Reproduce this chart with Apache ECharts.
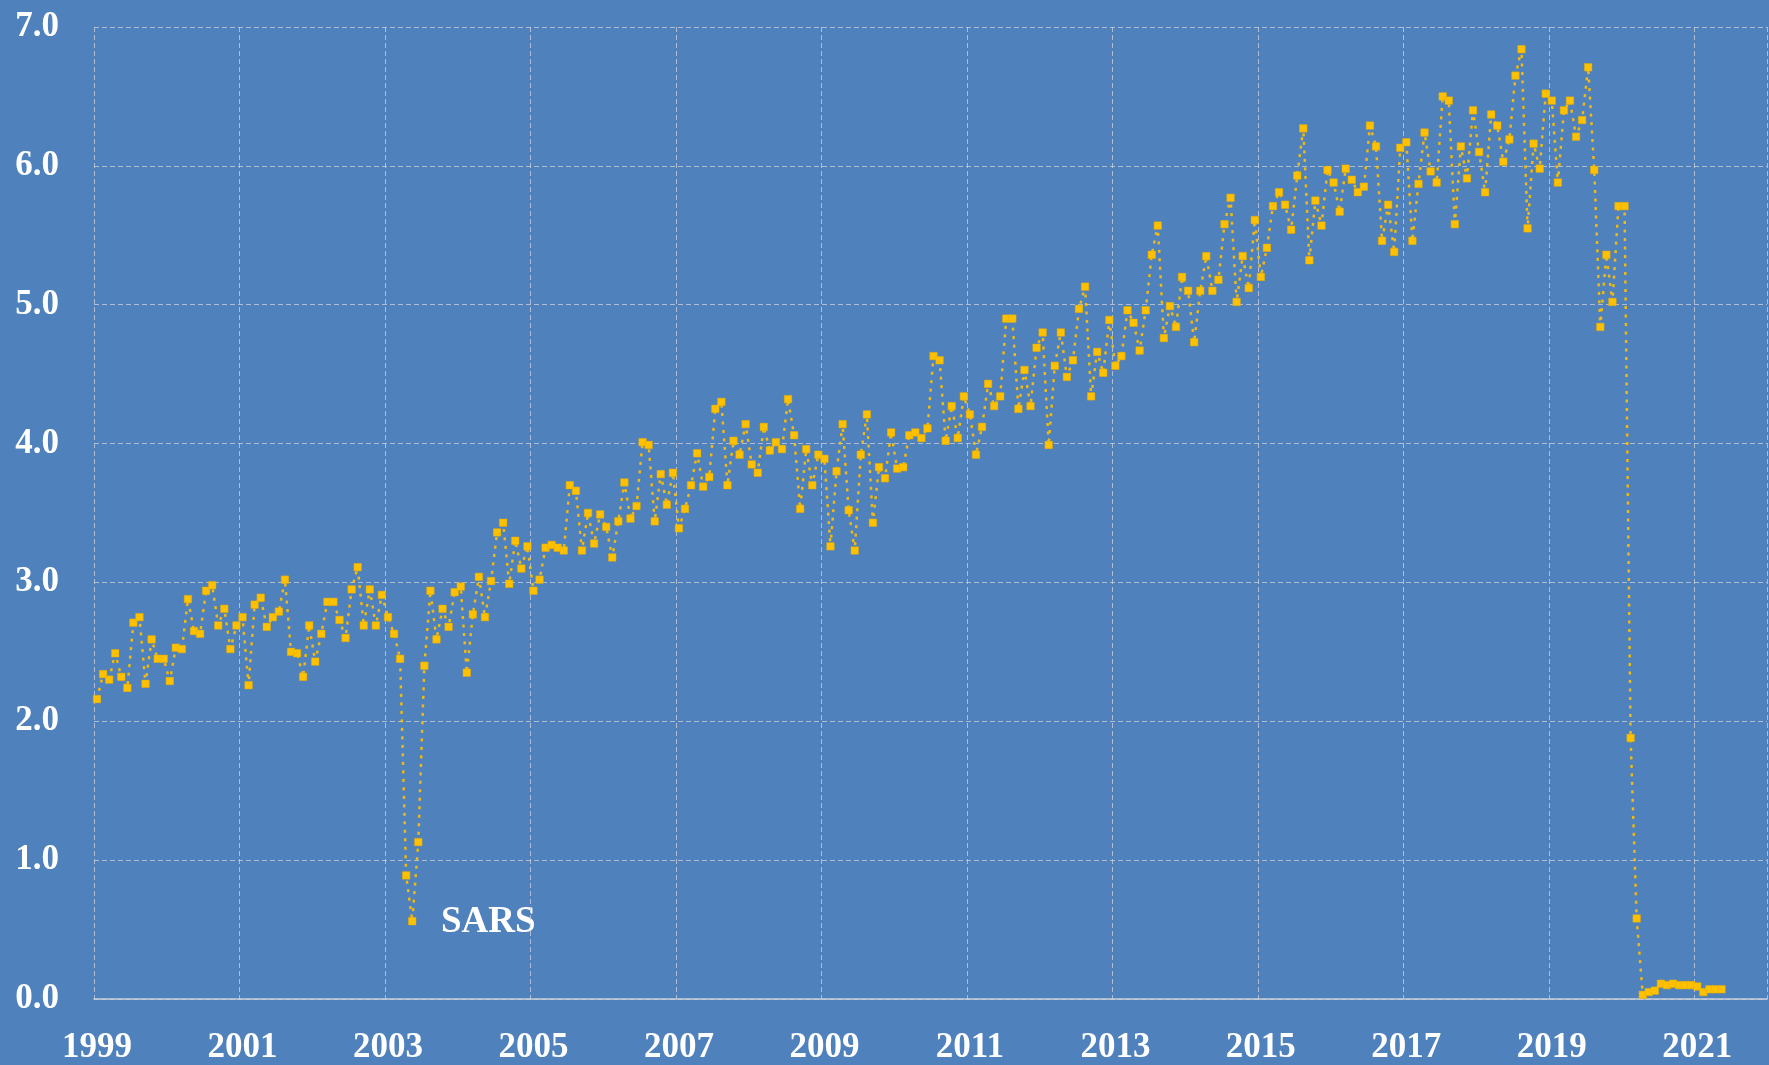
<!DOCTYPE html>
<html>
<head>
<meta charset="utf-8">
<script src="https://cdn.jsdelivr.net/npm/echarts@6/dist/echarts.min.js"></script>
<style>
html,body{margin:0;padding:0;background:#4F81BD;}
#chart{width:1769px;height:1065px;}
</style>
</head>
<body>
<div id="chart"></div>
<script>
// Axis range: monthly categories Jan 1999 .. Dec 2021
var firstYear = 1999;
var lastYear = 2021;
var yTickLabels = ['0.0','1.0','2.0','3.0','4.0','5.0','6.0','7.0'];
var annotation = 'SARS';

// Monthly values, one array per year
var v1999 = [2.16, 2.34, 2.30, 2.49, 2.32, 2.24, 2.71, 2.75, 2.27, 2.59, 2.45, 2.45];
var v2000 = [2.29, 2.53, 2.52, 2.88, 2.65, 2.63, 2.94, 2.98, 2.69, 2.81, 2.52, 2.69];
var v2001 = [2.75, 2.26, 2.84, 2.89, 2.68, 2.75, 2.79, 3.02, 2.50, 2.49, 2.32, 2.69];
var v2002 = [2.43, 2.63, 2.86, 2.86, 2.73, 2.60, 2.95, 3.11, 2.69, 2.95, 2.69, 2.91];
var v2003 = [2.75, 2.63, 2.45, 0.89, 0.56, 1.13, 2.40, 2.94, 2.59, 2.81, 2.68, 2.93];
var v2004 = [2.97, 2.35, 2.77, 3.04, 2.75, 3.01, 3.36, 3.43, 2.99, 3.30, 3.10, 3.26];
var v2005 = [2.94, 3.02, 3.25, 3.27, 3.25, 3.23, 3.70, 3.66, 3.23, 3.50, 3.28, 3.49];
var v2006 = [3.40, 3.18, 3.44, 3.72, 3.46, 3.55, 4.01, 3.99, 3.44, 3.78, 3.56, 3.79];
var v2007 = [3.39, 3.53, 3.70, 3.93, 3.69, 3.76, 4.25, 4.30, 3.70, 4.02, 3.92, 4.14];
var v2008 = [3.85, 3.79, 4.12, 3.95, 4.01, 3.96, 4.32, 4.06, 3.53, 3.96, 3.70, 3.92];
var v2009 = [3.89, 3.26, 3.80, 4.14, 3.52, 3.23, 3.92, 4.21, 3.43, 3.83, 3.75, 4.08];
var v2010 = [3.82, 3.83, 4.06, 4.08, 4.04, 4.11, 4.63, 4.60, 4.02, 4.27, 4.04, 4.34];
var v2011 = [4.21, 3.92, 4.12, 4.43, 4.27, 4.34, 4.90, 4.90, 4.25, 4.53, 4.27, 4.69];
var v2012 = [4.80, 3.99, 4.56, 4.80, 4.48, 4.60, 4.97, 5.13, 4.34, 4.66, 4.51, 4.89];
var v2013 = [4.56, 4.63, 4.96, 4.87, 4.67, 4.96, 5.36, 5.57, 4.76, 4.99, 4.84, 5.20];
var v2014 = [5.10, 4.73, 5.10, 5.35, 5.10, 5.18, 5.58, 5.77, 5.02, 5.35, 5.12, 5.61];
var v2015 = [5.20, 5.41, 5.71, 5.81, 5.72, 5.54, 5.93, 6.27, 5.32, 5.75, 5.57, 5.97];
var v2016 = [5.88, 5.67, 5.98, 5.90, 5.81, 5.85, 6.29, 6.14, 5.46, 5.72, 5.38, 6.13];
var v2017 = [6.17, 5.46, 5.87, 6.24, 5.96, 5.88, 6.50, 6.47, 5.58, 6.14, 5.91, 6.40];
var v2018 = [6.10, 5.81, 6.37, 6.29, 6.03, 6.19, 6.65, 6.84, 5.55, 6.16, 5.98, 6.52];
var v2019 = [6.47, 5.88, 6.40, 6.47, 6.21, 6.33, 6.71, 5.97, 4.84, 5.36, 5.02, 5.71];
var v2020 = [5.71, 1.88, 0.58, 0.03, 0.05, 0.06, 0.11, 0.10, 0.11, 0.10, 0.10, 0.10];
var v2021 = [0.09, 0.05, 0.07, 0.07, 0.07];

var yearly = [v1999,v2000,v2001,v2002,v2003,v2004,v2005,v2006,v2007,v2008,v2009,v2010,
              v2011,v2012,v2013,v2014,v2015,v2016,v2017,v2018,v2019,v2020,v2021];

var categories = [];
for (var y = firstYear; y <= lastYear; y++) {
  for (var m = 1; m <= 12; m++) categories.push(y + '-' + (m < 10 ? '0' + m : m));
}
var values = [];
yearly.forEach(function (arr) { arr.forEach(function (v) { values.push(v); }); });
while (values.length < categories.length) values.push(null);

var font = 'Liberation Serif, Times New Roman, serif';
var chart = echarts.init(document.getElementById('chart'), null, {renderer: 'canvas'});
chart.setOption({
  backgroundColor: '#4F81BD',
  animation: false,
  grid: {left: 94, right: 2, top: 27, bottom: 63.5, containLabel: false},
  xAxis: {
    type: 'category',
    data: categories,
    boundaryGap: true,
    axisLine: {show: true, lineStyle: {color: '#C9CFD8', width: 1.5}},
    axisTick: {show: false},
    axisLabel: {
      interval: 23,
      color: '#FFFFFF',
      fontFamily: font,
      fontWeight: 'bold',
      fontSize: 35,
      margin: 31,
      formatter: function (v) { return v.slice(0, 4); }
    },
    splitLine: {show: true, interval: 23, lineStyle: {color: 'rgba(205,210,220,0.75)', width: 1, type: [5, 3]}}
  },
  yAxis: {
    type: 'value',
    min: 0,
    max: 7,
    interval: 1,
    axisLine: {show: false},
    axisTick: {show: false},
    axisLabel: {
      color: '#FFFFFF',
      fontFamily: font,
      fontWeight: 'bold',
      fontSize: 35,
      margin: 35,
      formatter: function (v) { return yTickLabels[Math.round(v)]; }
    },
    splitLine: {show: true, lineStyle: {color: 'rgba(205,210,220,0.75)', width: 1, type: [5, 3]}}
  },
  series: [{
    type: 'line',
    data: values,
    symbol: 'rect',
    symbolSize: 7.5,
    showSymbol: true,
    showAllSymbol: true,
    itemStyle: {color: '#FFC000', borderColor: '#E5AC00', borderWidth: 0.5},
    lineStyle: {color: '#FFC000', width: 2.5, type: [3, 5.5], opacity: 0.9},
    z: 3
  }],
  graphic: [{
    type: 'text',
    left: 441,
    top: 904,
    style: {text: annotation, fill: '#FFFFFF', font: 'bold 37px ' + font}
  }]
});
</script>
</body>
</html>
